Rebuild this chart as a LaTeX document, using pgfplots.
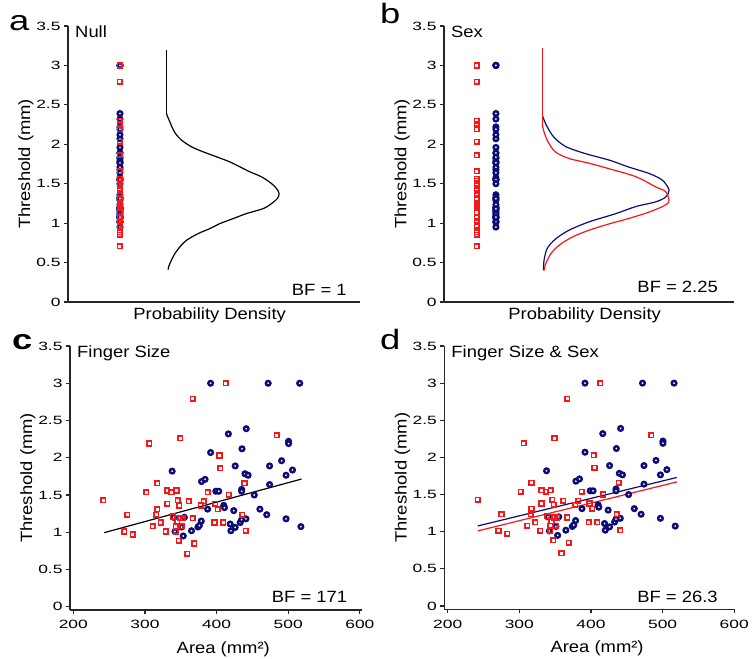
\documentclass[border=0pt]{standalone}
\usepackage{fontspec}
\setmainfont{Liberation Sans}[FakeStretch=1.13]
\newfontfamily\tickfont{Liberation Sans}[FakeStretch=1.45]
\newfontfamily\letterfont{Liberation Sans}[FakeStretch=1.3]
\usepackage{pgfplots}
\usepackage{pgfplotstable}
\pgfplotsset{compat=1.18}
\definecolor{navy}{RGB}{12,12,118}
\definecolor{ared}{RGB}{250,22,22}

% area (mm^2), threshold (mm)
\pgfplotstableread{
x y
242 1.43
271 1.01
275 1.235
283 0.97
302 1.535
306 2.19
311 1.08
316 1.235
317 1.31
317 1.66
322 1.13
329 1.01
331 1.38
331 1.56
337 1.535
339 1.21
343 1.01
344 1.56
343 1.08
345 1.14
346 1.43
348 1.36
349 1.19
347.5 0.886
349 2.26
351 1.08
353 1.19
359 0.71
361 1.415
367 1.19
367 2.79
369 0.85
378 1.36
382 1.415
387.5 1.535
397 1.13
398 1.38
401.5 1.31
404 2.03
405 1.86
409 1.13
413 3.00
417 1.50
436 1.235
439 1.66
441 1.02
484 2.30
}\redpts

\pgfplotstableread{
x y
338 1.82
340 1.20
342 1.01
351 1.07
355 1.20
353.5 0.95
365 1.02
374 1.07
376 1.09
378.6 1.15
379 1.68
384 1.71
387.5 1.31
391.7 3.00
391.7 2.07
399 1.55
403 1.55
410 1.36
411 1.33
416.5 2.32
419 1.11
420 1.02
426 1.065
424 1.29
426 1.89
433 1.13
435 1.17
441 1.18
435.5 2.12
435 1.575
435 1.55
439.6 1.785
444 1.765
441.4 2.39
452.6 1.50
460.5 1.31
470 1.235
472 3.00
474 1.89
474 1.64
490.8 1.96
497 1.765
497 1.18
500.5 2.22
500.5 2.19
506 1.835
516 3.00
517.7 1.075
}\bluepts

\tikzset{txt/.style={font=\fontsize{16.3}{18}\selectfont, inner sep=0pt}}

\pgfplotsset{
  panel/.style={scale only axis, clip=false,
    axis x line*=bottom, axis y line*=left,
    axis line style={-, line width=1.2pt, black!85},
    tick style={line width=1.2pt, black!85},
    tick align=outside, major tick length=4pt,
    ymax=3.5, ytick={0,0.5,...,3.5},
    /pgf/number format/assume math mode=true,
    ticklabel style={font=\fontsize{12}{14}\tickfont},
    label style={font=\fontsize{16.3}{18}\selectfont},
    ylabel={Threshold (mm)},
    ylabel style={at={(axis description cs:-0.144,0.5)}, anchor=center}},
  dens/.style={panel, xmin=0, xmax=1, ymin=0, xtick=\empty,
    xlabel={Probability Density},
    xlabel style={at={(axis description cs:0.485,-0.065)}, anchor=base}},
  area/.style={panel, xmin=195.4, xmax=603, ymin=-0.044,
    xtick={200,300,...,600},
    xticklabel style={yshift=-3pt},
    xlabel={Area (mm²)},
    xlabel style={at={(axis description cs:0.525,-0.163)}, anchor=base}},
  redmk/.style={only marks, mark=square, mark size=2.3pt,
    mark options={draw=ared, line width=1.6pt}},
  bluemk/.style={only marks, mark=*, mark size=2.3pt,
    mark options={draw=navy, fill=white, line width=2.4pt}},
}

\begin{document}
\begin{tikzpicture}
\path[use as bounding box] (0,0) rectangle (753pt,659pt);

% a: null model
\begin{axis}[dens, at={(68pt,357pt)}, anchor=south west, width=292pt, height=276pt]
  \addplot[bluemk] table[x expr=0.178, y=y] {\bluepts};
  \addplot[redmk] table[x expr=0.178, y=y] {\redpts};
  \addplot[black, line width=1.2pt] coordinates {(0.337,3.20) (0.337,2.40)};
  \addplot[black, line width=1.2pt, smooth, tension=0.5] coordinates {
    (0.337,2.40) (0.340,2.36) (0.347,2.30) (0.356,2.22) (0.368,2.137)
    (0.389,2.052) (0.423,1.968) (0.463,1.904) (0.509,1.841) (0.554,1.777)
    (0.589,1.714) (0.623,1.650) (0.663,1.587) (0.697,1.502) (0.714,1.439)
    (0.723,1.375) (0.717,1.312) (0.697,1.248) (0.669,1.185) (0.611,1.121)
    (0.566,1.058) (0.520,0.994) (0.486,0.931) (0.446,0.868) (0.406,0.783)
    (0.383,0.698) (0.366,0.614) (0.354,0.529) (0.345,0.45) (0.343,0.41)};
  \node[txt, anchor=base west] at (rel axis cs:0.024,1) [yshift=-12pt] {Null};
  \node[txt, anchor=base east] at (rel axis cs:0.955,0) [yshift=6pt] {BF = 1};
\end{axis}

% b: sex model
\begin{axis}[dens, at={(444pt,357pt)}, anchor=south west, width=290pt, height=276pt]
  \addplot[bluemk] table[x expr=0.179, y=y] {\bluepts};
  \addplot[redmk] table[x expr=0.113, y=y] {\redpts};
  \addplot[navy, line width=1.2pt, smooth, tension=0.5] coordinates {
    (0.340,2.36) (0.346,2.30) (0.356,2.22) (0.379,2.09) (0.42,1.97) (0.489,1.88)
    (0.569,1.80) (0.638,1.71) (0.707,1.63) (0.753,1.545) (0.776,1.42)
    (0.764,1.33) (0.73,1.27) (0.661,1.21) (0.592,1.12) (0.5,1.016)
    (0.431,0.91) (0.385,0.80) (0.356,0.68) (0.345,0.53) (0.343,0.40)};
  \addplot[ared, line width=1.2pt] coordinates {(0.339,3.22) (0.339,2.25)};
  \addplot[ared, line width=1.2pt, smooth, tension=0.5] coordinates {
    (0.339,2.25) (0.342,2.20) (0.348,2.12) (0.362,2.01) (0.385,1.90)
    (0.431,1.82) (0.5,1.76) (0.569,1.69) (0.661,1.59) (0.73,1.46)
    (0.764,1.40) (0.776,1.29) (0.764,1.23) (0.707,1.14) (0.638,1.06)
    (0.569,0.99) (0.5,0.91) (0.443,0.825) (0.397,0.72) (0.368,0.61)
    (0.351,0.487) (0.345,0.40)};
  \node[txt, anchor=base west] at (rel axis cs:0.024,1) [yshift=-12pt] {Sex};
  \node[txt, anchor=base east] at (rel axis cs:0.945,0) [yshift=9pt] {BF = 2.25};
\end{axis}

% c: finger size
\begin{axis}[area, at={(70pt,49pt)}, anchor=south west, width=292pt, height=264pt]
  \addplot[bluemk] table[x=x, y=y] {\bluepts};
  \addplot[redmk] table[x=x, y=y] {\redpts};
  \addplot[black, line width=1.2pt] coordinates {(243,0.994) (518.6,1.714)};
  \node[txt, anchor=base west] at (rel axis cs:0.024,1) [yshift=-12pt] {Finger Size};
  \node[txt, anchor=base east] at (rel axis cs:0.95,0) [yshift=7pt] {BF = 171};
\end{axis}

% d: finger size & sex
\begin{axis}[area, at={(444.3pt,49.7pt)}, anchor=south west, width=291pt, height=263.3pt,
    xmin=195.3, xmax=601.5, ymin=-0.045]
  \addplot[bluemk] table[x=x, y=y] {\bluepts};
  \addplot[redmk] table[x=x, y=y] {\redpts};
  \addplot[navy, line width=1.2pt] coordinates {(242,1.077) (520,1.73)};
  \addplot[ared, line width=1.2pt] coordinates {(242,1.01) (520,1.67)};
  \node[txt, anchor=base west] at (rel axis cs:0.024,1) [yshift=-12pt] {Finger Size \& Sex};
  \node[txt, anchor=base east] at (rel axis cs:0.94,0) [yshift=7pt] {BF = 26.3};
\end{axis}

% panel letters
\node[anchor=base west, inner sep=0pt, font=\fontsize{28}{30}\letterfont] at (9pt,628pt) {a};
\node[anchor=base west, inner sep=0pt, font=\fontsize{28}{30}\letterfont] at (380pt,635pt) {b};
\node[anchor=base west, inner sep=0pt, font=\fontsize{28}{30}\letterfont\bfseries] at (12pt,309pt) {c};
\node[anchor=base west, inner sep=0pt, font=\fontsize{28}{30}\letterfont] at (380pt,309pt) {d};
\end{tikzpicture}
\end{document}
